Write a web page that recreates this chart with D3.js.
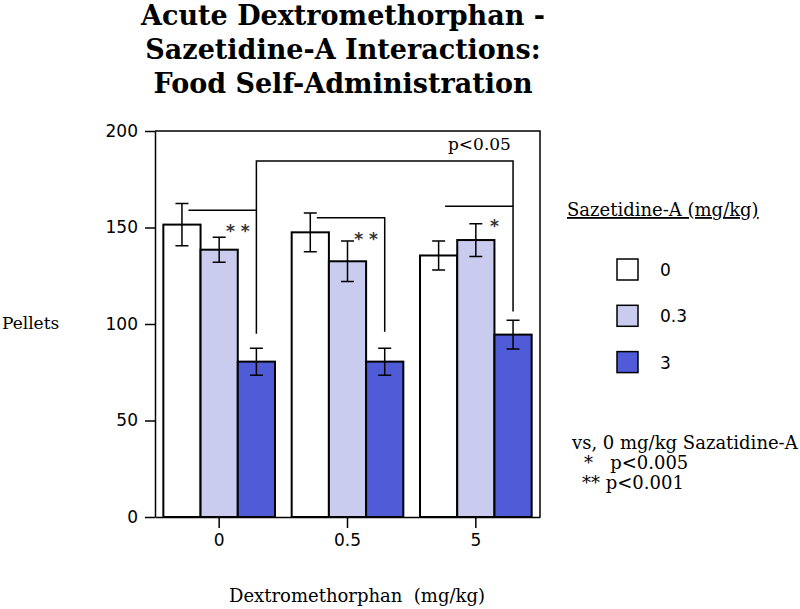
<!DOCTYPE html>
<html>
<head>
<meta charset="utf-8">
<script src="https://cdn.jsdelivr.net/npm/d3@7"></script>
<style>
  body { margin: 0; background: #fff; }
  .serif { font-family: "DejaVu Serif", serif; }
  .sans { font-family: "DejaVu Sans", sans-serif; }
</style>
</head>
<body>
<div id="chart"></div>
<script>
// data
var groups = ["0", "0.5", "5"];            // Dextromethorphan (mg/kg)
var subgroups = ["0", "0.3", "3"];         // Sazetidine-A (mg/kg)
var means0   = [151.5, 138.5, 80.5];
var means05  = [147.5, 132.5, 80.5];
var means5   = [135.5, 143.5, 94.5];
var errs0    = [11, 6.5, 7];
var errs05   = [10, 10.5, 7];
var errs5    = [7.5, 8.5, 7.5];
var yTicks = [0, 50, 100, 150, 200];
var colors = ["#ffffff", "#c9cbef", "#4f5bd7"];

// significance marks: which group, drawn next to the 0.3 bar, at value
var stars = [
  {group: "0",   text: "* *", value: 151},
  {group: "0.5", text: "* *", value: 147},
  {group: "5",   text: "*",   value: 154}
];
// brackets: from bar -> to bar, horizontal level, drop of right end
var brackets = [
  {g1: "0",   s1: 0, g2: "0",   s2: 2, level: 159, drop: null},
  {g1: "0.5", s1: 0, g2: "0.5", s2: 2, level: 155, drop: 96},
  {g1: "5",   s1: 0, g2: "5",   s2: 2, level: 161, drop: null},
  {g1: "0",   s1: 2, g2: "5",   s2: 2, level: 184.5, drop: 106.5, drop1: 95}
];

var data = groups.map(function(g, i) {
  var m = [means0, means05, means5][i];
  var e = [errs0, errs05, errs5][i];
  return {group: g, values: subgroups.map(function(s, j) {
    return {group: g, key: s, idx: j, mean: m[j], err: e[j]};
  })};
});

var W = 800, H = 609;
var margin = {top: 131, right: 260, bottom: 92, left: 155};

const svg = d3.select("#chart")
  .append("svg")
    .attr("width", W)
    .attr("height", H);

var x0 = d3.scaleBand()
  .domain(groups)
  .range([margin.left, W - margin.right])
  .paddingInner(0.13)
  .paddingOuter(0.065);

var x1 = d3.scaleBand()
  .domain(subgroups)
  .range([0, x0.bandwidth()]);

var y = d3.scaleLinear()
  .domain([0, 200])
  .range([H - margin.bottom, margin.top]);

function barCenter(g, s) {
  return x0(g) + x1(subgroups[s]) + x1.bandwidth() / 2;
}

// title
var title = ["Acute Dextromethorphan -", "Sazetidine-A Interactions:", "Food Self-Administration"];
svg.append("g")
  .selectAll("text")
  .data(title)
  .enter().append("text")
    .attr("class", "serif")
    .attr("x", 343)
    .attr("y", function(d, i) { return 25 + i * 34; })
    .attr("text-anchor", "middle")
    .style("font-size", "27px")
    .style("font-weight", "bold")
    .text(function(d) { return d; });

// frame (top and right)
svg.append("path")
  .attr("d", "M" + margin.left + "," + y(200) + "H" + (W - margin.right) + "V" + y(0))
  .attr("fill", "none")
  .attr("stroke", "#000")
  .attr("stroke-width", 1.5);

// bars
var gGroups = svg.append("g")
  .selectAll("g")
  .data(data)
  .enter().append("g")
    .attr("transform", function(d) { return "translate(" + x0(d.group) + ",0)"; });

gGroups.selectAll("rect")
  .data(function(d) { return d.values; })
  .enter().append("rect")
    .attr("x", function(d) { return x1(d.key); })
    .attr("y", function(d) { return y(d.mean); })
    .attr("width", x1.bandwidth())
    .attr("height", function(d) { return y(0) - y(d.mean); })
    .attr("fill", function(d) { return colors[d.idx]; })
    .attr("stroke", "#000")
    .attr("stroke-width", 2);

// error bars: T above the top, inverted T below it
var capW = 13;
var eb = gGroups.selectAll("g.err")
  .data(function(d) { return d.values; })
  .enter().append("g")
    .attr("class", "err")
    .attr("transform", function(d) { return "translate(" + (x1(d.key) + x1.bandwidth() / 2) + ",0)"; });

eb.append("path")
  .attr("d", function(d) {
    var t = y(d.mean + d.err), b = y(d.mean - d.err);
    return "M0," + t + "V" + b +
           "M" + (-capW / 2) + "," + t + "H" + (capW / 2) +
           "M" + (-capW / 2) + "," + b + "H" + (capW / 2);
  })
  .attr("fill", "none")
  .attr("stroke", "#000")
  .attr("stroke-width", 1.5);

// axes
svg.append("g")
  .attr("transform", "translate(" + margin.left + ",0)")
  .call(d3.axisLeft(y)
    .tickValues(yTicks)
    .tickSize(10)
    .tickSizeOuter(0)
    .tickPadding(7))
  .call(function(g) {
    g.selectAll("path, line").attr("stroke-width", 1.5);
    g.selectAll("text").attr("class", "sans").style("font-size", "17px").attr("fill", "#000");
  });

svg.append("g")
  .attr("transform", "translate(0," + y(0) + ")")
  .call(d3.axisBottom(x0)
    .tickSize(11)
    .tickSizeOuter(0)
    .tickPadding(6))
  .call(function(g) {
    g.selectAll("path, line").attr("stroke-width", 1.5);
    g.selectAll("text").attr("class", "sans").style("font-size", "17px").attr("fill", "#000");
  });

// axis titles
svg.append("text")
  .attr("class", "serif")
  .attr("x", 2)
  .attr("y", 329)
  .style("font-size", "17px")
  .text("Pellets");

svg.append("text")
  .attr("class", "serif")
  .attr("x", 357)
  .attr("y", 602)
  .attr("text-anchor", "middle")
  .style("font-size", "18px")
  .style("white-space", "pre")
  .text("Dextromethorphan  (mg/kg)");

// brackets
var br = svg.append("g")
  .attr("fill", "none")
  .attr("stroke", "#000")
  .attr("stroke-width", 1.5);

brackets.forEach(function(b) {
  var xa = barCenter(b.g1, b.s1), xb = barCenter(b.g2, b.s2);
  if (b.s1 === 0 && b.g1 === b.g2) xa += capW / 2;
  var yl = y(b.level);
  var d = "M" + xa + "," + (b.drop1 != null ? y(b.drop1) : yl) + "V" + yl + "H" + xb;
  if (b.drop != null) d += "V" + y(b.drop);
  br.append("path").attr("d", d);
});

svg.append("text")
  .attr("class", "serif")
  .attr("x", (barCenter("5", 1) + barCenter("5", 2)) / 2 - 15)
  .attr("y", y(190))
  .attr("text-anchor", "middle")
  .style("font-size", "17px")
  .text("p<0.05");

// asterisks
svg.append("g")
  .selectAll("text")
  .data(stars)
  .enter().append("text")
    .attr("class", "sans")
    .attr("x", function(d) { return x0(d.group) + x1("0.3") + x1.bandwidth(); })
    .attr("y", function(d) { return y(d.value); })
    .attr("dy", "0.7em")
    .attr("text-anchor", "middle")
    .style("font-size", "17px")
    .style("font-weight", "bold")
    .attr("fill", "#333")
    .text(function(d) { return d.text; });

// legend
var lx = 617;
svg.append("text")
  .attr("class", "serif")
  .attr("x", 567)
  .attr("y", 216)
  .style("font-size", "18px")
  .style("text-decoration", "underline")
  .text("Sazetidine-A (mg/kg)");

var leg = svg.append("g")
  .selectAll("g")
  .data(subgroups)
  .enter().append("g")
    .attr("transform", function(d, i) { return "translate(" + lx + "," + (259 + i * 46.3) + ")"; });

leg.append("rect")
  .attr("width", 21)
  .attr("height", 21)
  .attr("fill", function(d, i) { return colors[i]; })
  .attr("stroke", "#000")
  .attr("stroke-width", 1.5);

leg.append("text")
  .attr("class", "sans")
  .attr("x", 43)
  .attr("y", 11)
  .attr("dy", "0.35em")
  .style("font-size", "17px")
  .text(function(d) { return d; });

// notes
var notes = [
  {x: 572, t: "vs, 0 mg/kg Sazatidine-A"},
  {x: 584, t: "*   p<0.005"},
  {x: 582, t: "** p<0.001"}
];
svg.append("g")
  .selectAll("text")
  .data(notes)
  .enter().append("text")
    .attr("class", "serif")
    .attr("x", function(d) { return d.x; })
    .attr("y", function(d, i) { return 449 + i * 20; })
    .style("font-size", "18px")
    .style("white-space", "pre")
    .text(function(d) { return d.t; });
</script>
</body>
</html>
